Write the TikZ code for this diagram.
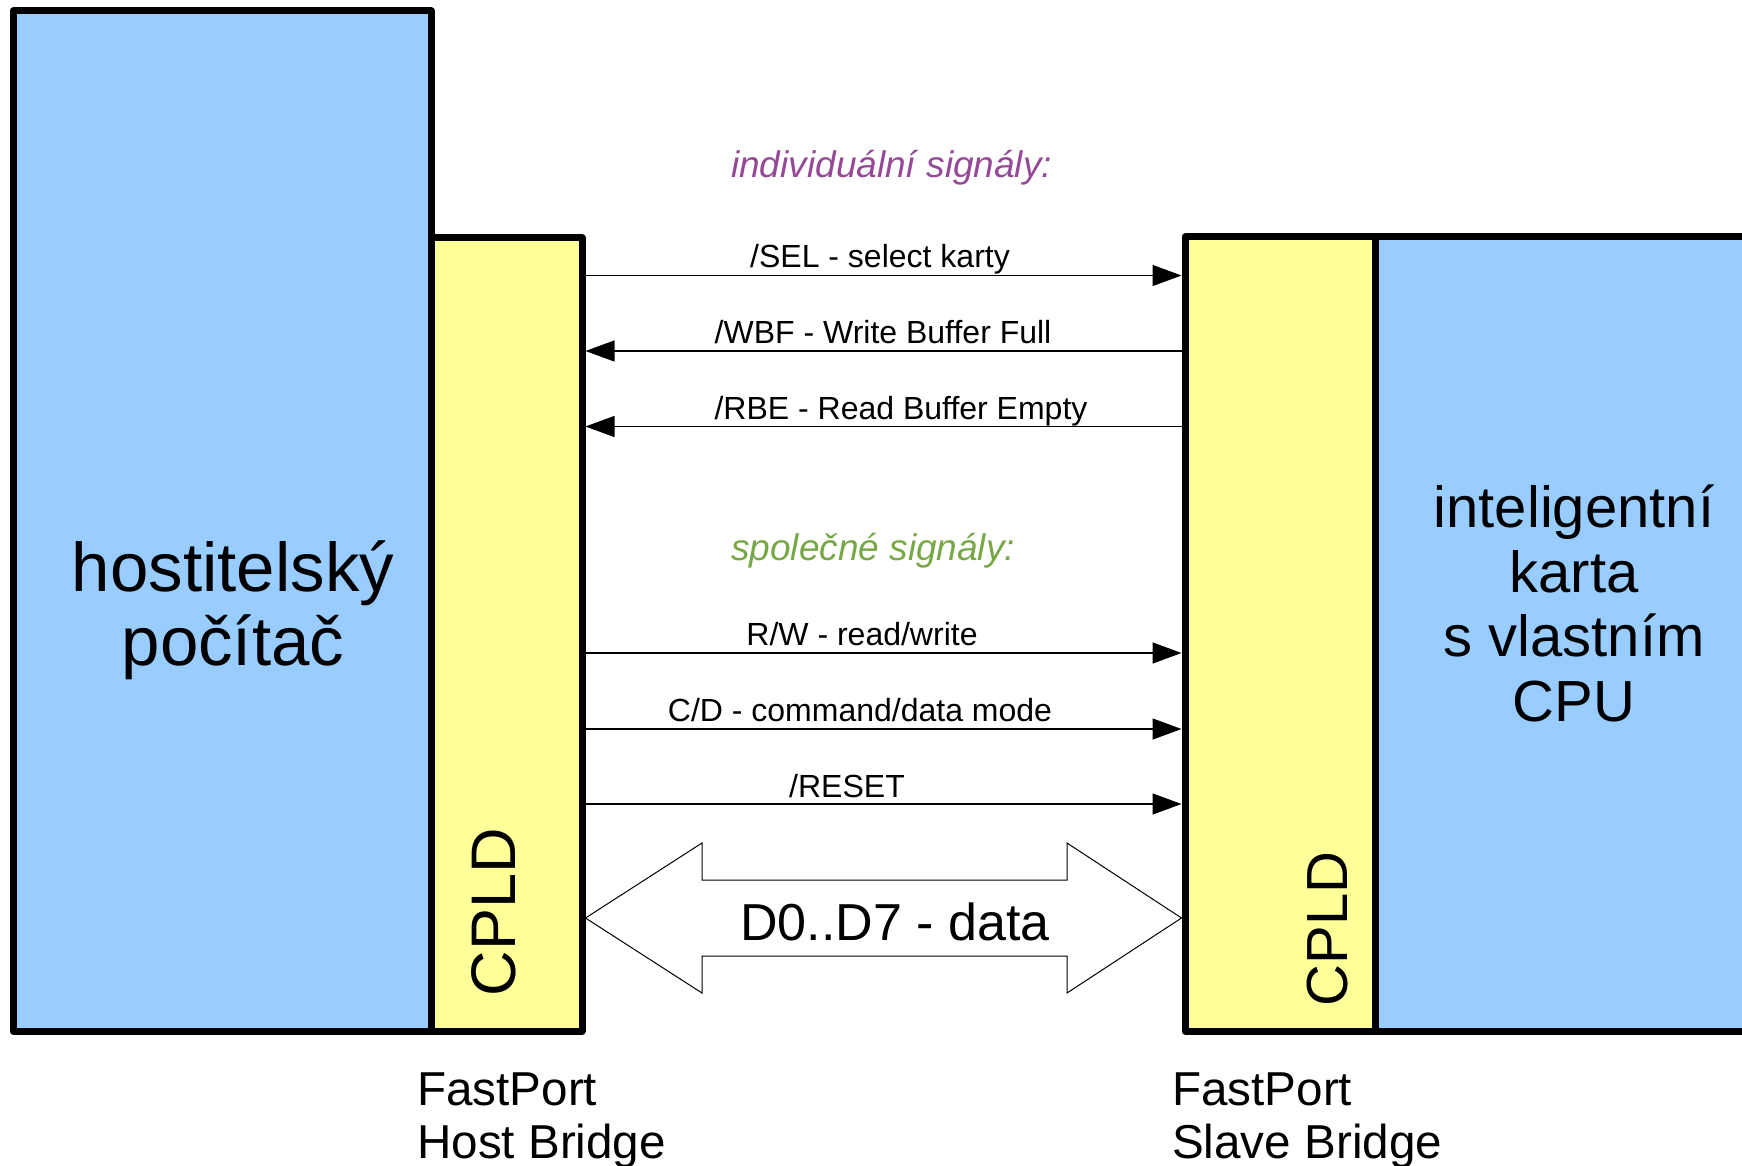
\documentclass[tikz,border=0pt]{standalone}
\usepackage{fontspec}
\setmainfont{Liberation Sans}
\usetikzlibrary{arrows.meta}

\definecolor{hostblue}{HTML}{99CCFF}
\definecolor{cpldyellow}{HTML}{FFFF99}
\definecolor{indivpurple}{HTML}{954895}
\definecolor{commongreen}{HTML}{77A845}

\tikzset{
  unitbox/.style={draw=black, line width=7pt, line join=round,
    inner sep=0pt, outer sep=0pt, anchor=north west},
  sig/.style={line width=1.3pt, -{Triangle[length=29pt,width=21pt]},
    shorten <=3.5pt, shorten >=3.5pt},
  siglabel/.style={anchor=base, inner sep=0pt, font=\fontsize{32}{38}\selectfont},
  grouptitle/.style={anchor=base west, inner sep=0pt, font=\fontsize{37}{44}\selectfont\itshape},
  % multi-line nodes: base is the baseline of the last line
  bigtext/.style={anchor=base, align=center, inner sep=0pt},
  cpldtext/.style={rotate=90, inner sep=0pt},
  bridgetext/.style={anchor=base west, align=left, inner sep=0pt,
    font=\fontsize{47.6}{53}\selectfont},
  databus/.style={draw=black, line width=1pt, fill=white, line join=miter}
}

\begin{document}
\begin{tikzpicture}[x=1pt, y=-1pt]
\useasboundingbox (0,0) rectangle (1742,1166);
\clip (0,0) rectangle (1742,1166);

% host computer with its bridge CPLD
\node[unitbox, fill=hostblue, minimum width=418pt, minimum height=1020pt] (host) at (13,11) {};
\node[unitbox, fill=cpldyellow, minimum width=151pt, minimum height=793pt] (hostcpld) at (431,238) {};

% intelligent card with its bridge CPLD (runs off the right edge)
\node[unitbox, fill=hostblue, minimum width=400pt, minimum height=794pt] (card) at (1375,237) {};
\node[unitbox, fill=cpldyellow, minimum width=190pt, minimum height=794pt] (slavecpld) at (1185,237) {};

% texts inside the units
\node[bigtext, font=\fontsize{69}{74}\selectfont] (hosttext) at (233,665) {hostitelský\\počítač};
\node[bigtext, font=\fontsize{58}{64.5}\selectfont] (cardtext) at (1574,721) {inteligentní\\karta\\s vlastním\\CPU};
\node[cpldtext, font=\fontsize{63}{70}\selectfont] (hostcpldtext) at (494,912) {CPLD};
\node[cpldtext, font=\fontsize{58}{66}\selectfont] (slavecpldtext) at (1328,929) {CPLD};

% group headings
\node[grouptitle, text=indivpurple] (indiv) at (731,178) {individuální signály:};
\node[grouptitle, text=commongreen] (common) at (731,560) {společné signály:};

% signal levels
\coordinate (ySEL) at (0,275.5);
\coordinate (yWBF) at (0,351);
\coordinate (yRBE) at (0,426.5);
\coordinate (yRW)  at (0,653);
\coordinate (yCD)  at (0,729);
\coordinate (yRST) at (0,804);
\coordinate (yBUS) at (0,918);

% individual signals
\draw[sig] (hostcpld.east |- ySEL) -- (slavecpld.west |- ySEL);
\draw[sig] (slavecpld.west |- yWBF) -- (hostcpld.east |- yWBF);
\draw[sig] (slavecpld.west |- yRBE) -- (hostcpld.east |- yRBE);
\node[siglabel] (lSEL) at (880,268) {/SEL - select karty};
\node[siglabel] (lWBF) at (883,343.5) {/WBF - Write Buffer Full};
\node[siglabel] (lRBE) at (901,419) {/RBE - Read Buffer Empty};

% common signals
\draw[sig] (hostcpld.east |- yRW) -- (slavecpld.west |- yRW);
\draw[sig] (hostcpld.east |- yCD) -- (slavecpld.west |- yCD);
\draw[sig] (hostcpld.east |- yRST) -- (slavecpld.west |- yRST);
\node[siglabel] (lRW) at (862,645.5) {R/W - read/write};
\node[siglabel] (lCD) at (860,721.5) {C/D - command/data mode};
\node[siglabel] (lRST) at (847,797) {/RESET};

% bidirectional data bus
\coordinate (busL) at ([xshift=3.5pt]hostcpld.east |- yBUS);
\coordinate (busR) at ([xshift=-3.5pt]slavecpld.west |- yBUS);
\path[databus] (busL) -- (702,843) -- (702,880) -- (1067,880) -- (1067,843)
  -- (busR) -- (1067,993) -- (1067,956) -- (702,956) -- (702,993) -- cycle;
\node[anchor=base, inner sep=0pt, font=\fontsize{52}{60}\selectfont] (datalabel) at (895,940) {D0..D7 - data};

% bridge captions
\node[bridgetext] (hostbridge) at (417,1158) {FastPort\\Host Bridge};
\node[bridgetext] (slavebridge) at (1172,1158) {FastPort\\Slave Bridge};
\end{tikzpicture}
\end{document}
